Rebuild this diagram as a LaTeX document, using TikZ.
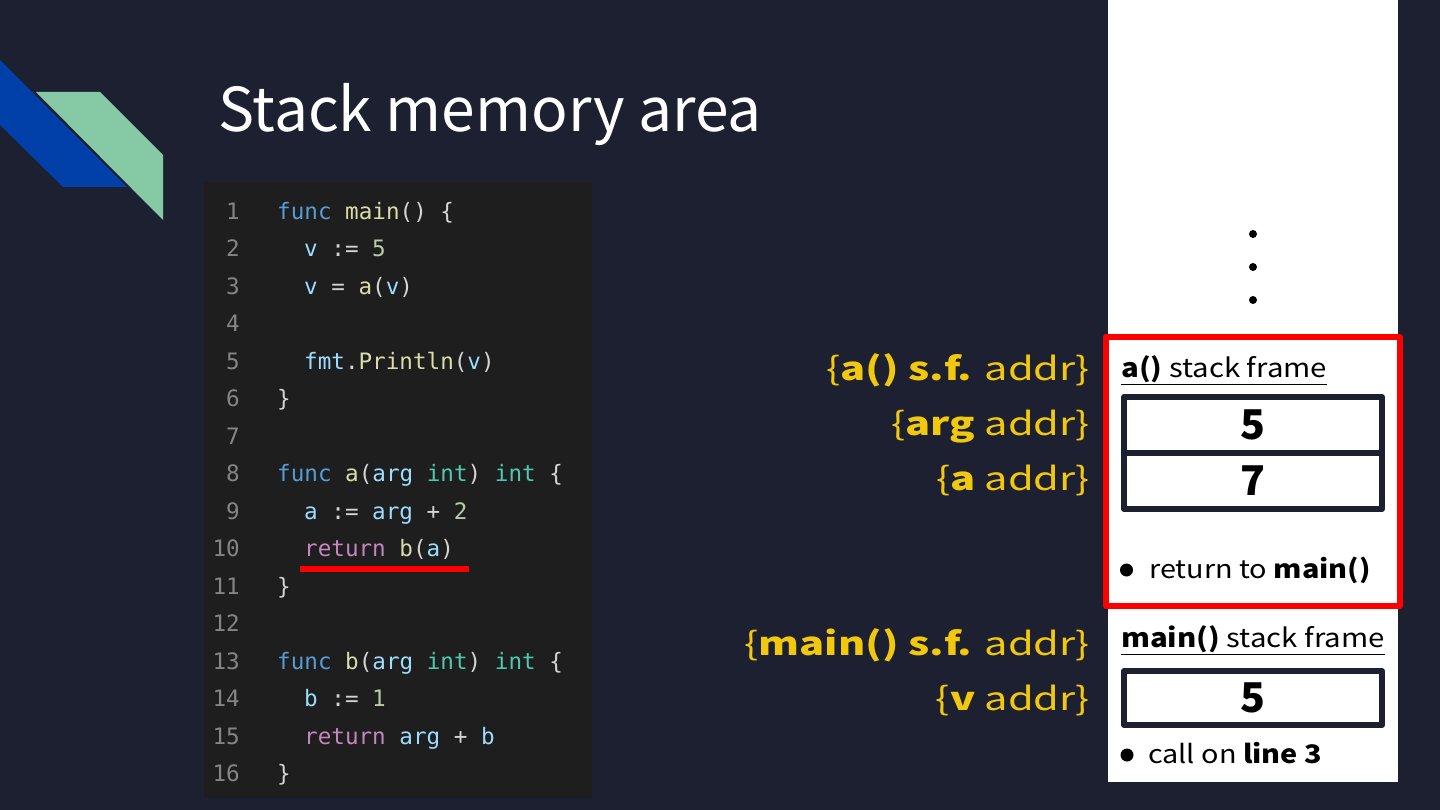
\documentclass[tikz,border=0pt]{standalone}
\usepackage{fontspec}
\usepackage{xcolor}
\setmainfont{Noto Sans CJK JP}
\setmonofont{DejaVu Sans Mono}
\newfontfamily\addrfont[FakeStretch=1.30]{Noto Sans CJK JP}
\newfontfamily\framefont[FakeStretch=1.13]{Noto Sans CJK JP}
\usetikzlibrary{positioning}

\definecolor{slideBg}{HTML}{1C2030}
\definecolor{stripeBlue}{HTML}{0040A8}
\definecolor{stripeGreen}{HTML}{86C9A5}
\definecolor{addrYellow}{HTML}{F2C80F}
\definecolor{frameRed}{HTML}{FF0000}
\definecolor{codeBg}{HTML}{1E1E1E}
\definecolor{codeTxt}{HTML}{D4D4D4}
\definecolor{codeNum}{HTML}{858585}
\definecolor{codeKw}{HTML}{569CD6}
\definecolor{codeFn}{HTML}{DCDCAA}
\definecolor{codeVar}{HTML}{9CDCFE}
\definecolor{codeLit}{HTML}{B5CEA8}
\definecolor{codeTy}{HTML}{4EC9B0}
\definecolor{codeRet}{HTML}{C586C0}

\newcommand{\cKw}[1]{\textcolor{codeKw}{#1}}
\newcommand{\cFn}[1]{\textcolor{codeFn}{#1}}
\newcommand{\cVar}[1]{\textcolor{codeVar}{#1}}
\newcommand{\cLit}[1]{\textcolor{codeLit}{#1}}
\newcommand{\cTy}[1]{\textcolor{codeTy}{#1}}
\newcommand{\cRet}[1]{\textcolor{codeRet}{#1}}

\begin{document}
\begin{tikzpicture}[
        x=1pt,
        y=-1pt,
        line join=round,
        line cap=round,
        title/.style={anchor=base west, inner sep=0pt, text=white,
            font=\fontsize{60.5}{66}\selectfont},
        lineno/.style={anchor=base east, inner sep=0pt, text=codeNum,
            font=\ttfamily\fontsize{22.6}{26}\selectfont},
        codeline/.style={anchor=base west, inner sep=0pt, text=codeTxt,
            font=\ttfamily\fontsize{22.6}{26}\selectfont},
        addr/.style={anchor=base east, inner sep=0pt, text=addrYellow,
            font=\addrfont\fontsize{32}{35}\selectfont},
        header/.style={anchor=base west, inner sep=0pt, text=black,
            font=\framefont\fontsize{26}{29}\selectfont},
        note/.style={anchor=base west, inner sep=0pt, text=black,
            font=\framefont\fontsize{25.5}{28}\selectfont},
        cell/.style={draw=slideBg, line width=6pt, fill=white,
            minimum width=258pt, inner sep=0pt,
            font=\bfseries\fontsize{41}{44}\selectfont},
        dot/.style={circle, fill=black, inner sep=0pt, minimum size=#1},
        dot/.default=8pt
    ]

        % =================================
        % NỀN
        % =================================
        \useasboundingbox (0,0) rectangle (1440,810);
        \fill[slideBg] (0,0) rectangle (1440,810);

        % hai dải trang trí
        \fill[stripeBlue]
            (0,60) -- (127,187) -- (63,187) -- (0,125) -- cycle;
        \fill[stripeGreen]
            (36,92) -- (100,92) -- (163,155) -- (163,220) -- cycle;

        \node[title] (tieude) at (218,132) {Stack memory area};


        % =================================
        % KHUNG MÃ
        % =================================
        \fill[codeBg] (204,182) rectangle (592,798);

        \foreach \n in {1,...,16}
            \node[lineno] (so\n) at (240,{219.5+37.47*(\n-1)}) {\n};

        \node[codeline] (code1)  at (277,219.5)  {\cKw{func} \cFn{main}() \{};
        \node[codeline] (code2)  at (304,257.0)  {\cVar{v} := \cLit{5}};
        \node[codeline] (code3)  at (304,294.4)  {\cVar{v} = \cFn{a}(\cVar{v})};
        \node[codeline] (code5)  at (304,369.4)  {\cVar{fmt}.\cFn{Println}(\cVar{v})};
        \node[codeline] (code6)  at (277,406.9)  {\}};
        \node[codeline] (code8)  at (277,481.8)  {\cKw{func} \cFn{a}(\cVar{arg} \cTy{int}) \cTy{int} \{};
        \node[codeline] (code9)  at (304,519.3)  {\cVar{a} := \cVar{arg} + \cLit{2}};
        \node[codeline] (code10) at (304,556.7)  {\cRet{return} \cFn{b}(\cVar{a})};
        \node[codeline] (code11) at (277,594.2)  {\}};
        \node[codeline] (code13) at (277,669.1)  {\cKw{func} \cFn{b}(\cVar{arg} \cTy{int}) \cTy{int} \{};
        \node[codeline] (code14) at (304,706.6)  {\cVar{b} := \cLit{1}};
        \node[codeline] (code15) at (304,744.1)  {\cRet{return} \cVar{arg} + \cVar{b}};
        \node[codeline] (code16) at (277,781.5)  {\}};

        % gạch chân dòng 10
        \coordinate (gachA) at (300,569);
        \coordinate (gachB) at (469,569);
        \draw[frameRed, line width=5.5pt, line cap=butt] (gachA) -- (gachB);


        % =================================
        % CỘT STACK
        % =================================
        \fill[white] (1108,0) rectangle (1398,782);

        \node[dot] (cham1) at (1253,234) {};
        \node[dot] (cham2) at (1253,267) {};
        \node[dot] (cham3) at (1253,300) {};

        % khung a()
        \node[header] (tenA) at (1121,377)
            {\underline{\textbf{a()} stack frame}};
        \node[cell, minimum height=56pt] (oArg) at (1253,425) {5};
        \node[cell, minimum height=56pt] (oA) at (1253,481) {7};
        \node[dot=13pt] (bulA) at (1126.5,570) {};
        \node[note] (traVe) at (1149,578) {return to \textbf{main()}};

        \draw[frameRed, line width=6pt, line cap=butt]
            (1106,337) rectangle (1400,606);

        % khung main()
        \node[header] (tenMain) at (1121,647)
            {\underline{\textbf{main()} stack frame}};
        \node[cell, minimum height=54pt] (oV) at (1253,698) {5};
        \node[dot=13pt] (bulMain) at (1127,755) {};
        \node[note] (goiTai) at (1148,763) {call on \textbf{line 3}};


        % =================================
        % NHÃN ĐỊA CHỈ
        % =================================
        \node[addr] (dcA)    at (1090,380) {\{\textbf{a() s.f.} addr\}};
        \node[addr] (dcArg)  at (1090,435) {\{\textbf{arg} addr\}};
        \node[addr] (dcVarA) at (1090,490) {\{\textbf{a} addr\}};
        \node[addr] (dcMain) at (1090,655) {\{\textbf{main() s.f.} addr\}};
        \node[addr] (dcV)    at (1090,710) {\{\textbf{v} addr\}};

    \end{tikzpicture}
\end{document}
